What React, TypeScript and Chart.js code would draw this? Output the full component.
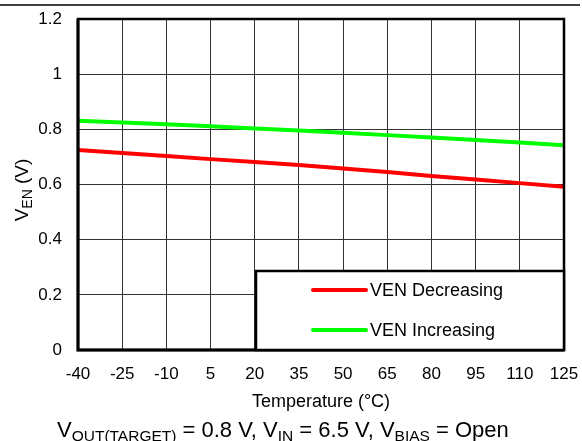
import React, { useEffect, useRef } from "react";
import { Chart, registerables } from "chart.js";

Chart.register(...registerables);

const temperatures = [-40, -25, -10, 5, 20, 35, 50, 65, 80, 95, 110, 125];
const venDecreasing = [0.725, 0.714, 0.703, 0.692, 0.682, 0.671, 0.658, 0.645, 0.631, 0.618, 0.605, 0.592];
const venIncreasing = [0.831, 0.825, 0.818, 0.811, 0.803, 0.796, 0.788, 0.779, 0.770, 0.761, 0.752, 0.742];
const seriesLabels = ["VEN Decreasing", "VEN Increasing"];
const seriesColors = ["#ff0000", "#00ff00"];
const xTitle = "Temperature (°C)";
const captionParts: [string, boolean][] = [
  ["V", false], ["OUT(TARGET)", true], [" = 0.8 V, V", false], ["IN", true],
  [" = 6.5 V, V", false], ["BIAS", true], [" = Open", false],
];
const yTitleParts: [string, boolean][] = [["V", false], ["EN", true], [" (V)", false]];

const FONT = 'Arial, "Liberation Sans", sans-serif';

function drawParts(ctx: CanvasRenderingContext2D, parts: [string, boolean][], x: number, y: number, main: number, sub: number, subOff: number) {
  let cx = x;
  for (const [t, isSub] of parts) {
    ctx.font = `${isSub ? sub : main}px ${FONT}`;
    ctx.fillText(t, cx, isSub ? y + subOff : y);
    cx += ctx.measureText(t).width;
  }
  return cx - x;
}
function measureParts(ctx: CanvasRenderingContext2D, parts: [string, boolean][], main: number, sub: number) {
  let w = 0;
  for (const [t, isSub] of parts) {
    ctx.font = `${isSub ? sub : main}px ${FONT}`;
    w += ctx.measureText(t).width;
  }
  return w;
}

const decorPlugin = {
  id: "decor",
  beforeDraw(chart: any) {
    const ctx = chart.ctx as CanvasRenderingContext2D;
    ctx.save();
    ctx.fillStyle = "#fff";
    ctx.fillRect(0, 0, chart.width, chart.height);
    ctx.strokeStyle = "#000";
    ctx.lineWidth = 1.5;
    ctx.beginPath();
    ctx.moveTo(0, 5);
    ctx.lineTo(580, 5);
    ctx.stroke();
    ctx.restore();
  },
  afterDraw(chart: any) {
    const ctx = chart.ctx as CanvasRenderingContext2D;
    const a = chart.chartArea;
    ctx.save();
    // frame
    ctx.strokeStyle = "#000";
    ctx.lineWidth = 2.5;
    ctx.strokeRect(a.left, a.top, a.right - a.left, a.bottom - a.top);
    ctx.lineWidth = 3;
    ctx.beginPath();
    ctx.moveTo(a.left, a.top);
    ctx.lineTo(a.left, a.bottom);
    ctx.lineTo(a.right, a.bottom);
    ctx.stroke();

    // legend box
    const bw = 308, bh = 79;
    const bx = a.right - bw, by = a.bottom - bh;
    ctx.fillStyle = "#fff";
    ctx.fillRect(bx, by, bw, bh);
    ctx.lineWidth = 2.5;
    ctx.strokeRect(bx, by, bw, bh);
    chart.data.datasets.forEach((ds: any, i: number) => {
      const ly = by + 19 + i * 40;
      ctx.strokeStyle = ds.borderColor;
      ctx.lineWidth = 4;
      ctx.lineCap = "round";
      ctx.beginPath();
      ctx.moveTo(bx + 57, ly);
      ctx.lineTo(bx + 110, ly);
      ctx.stroke();
      ctx.fillStyle = "#000";
      ctx.font = `18px ${FONT}`;
      ctx.textBaseline = "middle";
      ctx.textAlign = "left";
      ctx.fillText(ds.label, bx + 114, ly + 1);
    });

    // x title
    ctx.fillStyle = "#000";
    ctx.textAlign = "center";
    ctx.textBaseline = "alphabetic";
    ctx.font = `18px ${FONT}`;
    ctx.fillText(xTitle, (a.left + a.right) / 2, 407);

    // caption
    ctx.textAlign = "left";
    drawParts(ctx, captionParts, 57, 437, 22, 15.5, 4);

    // y title rotated
    ctx.save();
    ctx.translate(28, 190);
    ctx.rotate(-Math.PI / 2);
    const w = measureParts(ctx, yTitleParts, 19, 14);
    drawParts(ctx, yTitleParts, -w / 2, 0, 19, 14, 4);
    ctx.restore();

    ctx.restore();
  },
};

export default function App() {
  const ref = useRef<HTMLCanvasElement | null>(null);
  useEffect(() => {
    if (!ref.current) return;
    const mk = (vals: number[]) => temperatures.map((t, i) => ({ x: t, y: vals[i] }));
    const chart = new Chart(ref.current, {
      type: "line",
      data: {
        datasets: [
          { label: seriesLabels[0], data: mk(venDecreasing), borderColor: seriesColors[0], borderWidth: 4, pointRadius: 0, fill: false, tension: 0 },
          { label: seriesLabels[1], data: mk(venIncreasing), borderColor: seriesColors[1], borderWidth: 4, pointRadius: 0, fill: false, tension: 0 },
        ],
      },
      options: {
        responsive: false,
        animation: false,
        devicePixelRatio: 1,
        layout: { padding: { left: 0, top: 19, right: 18, bottom: 0 } },
        plugins: { legend: { display: false }, tooltip: { enabled: false }, title: { display: false } },
        scales: {
          x: {
            type: "linear",
            min: -40,
            max: 125,
            ticks: { stepSize: 15, color: "#000", font: { family: FONT, size: 17 }, padding: 14, maxRotation: 0, autoSkip: false },
            grid: { color: "#333", lineWidth: 1, drawTicks: false },
            border: { display: false },
            afterFit: (s: any) => { s.height = 91; s.paddingLeft = 0; s.paddingRight = 0; },
          },
          y: {
            min: 0,
            max: 1.2,
            ticks: { stepSize: 0.2, color: "#000", font: { family: FONT, size: 17 }, padding: 16, callback: (v: any) => String(Math.round(Number(v) * 10) / 10) },
            grid: { color: "#333", lineWidth: 1, drawTicks: false },
            border: { display: false },
            afterFit: (s: any) => { s.width = 78; s.paddingTop = 0; s.paddingBottom = 0; },
          },
        },
      },
      plugins: [decorPlugin],
    });
    return () => chart.destroy();
  }, []);
  return (
    <div style={{ position: "absolute", left: 0, top: 0, width: 582, height: 441, background: "#fff" }}>
      <canvas ref={ref} width={582} height={441} style={{ display: "block" }} />
    </div>
  );
}
